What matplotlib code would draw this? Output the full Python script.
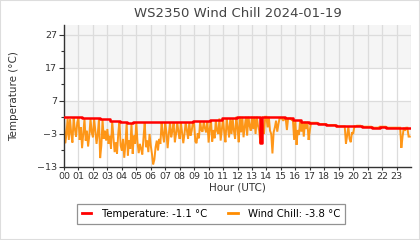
import numpy as np
import matplotlib
matplotlib.use("Agg")
import matplotlib.pyplot as plt
from matplotlib.patches import Rectangle

# ---------------- data ----------------
# temperature steps: hour at which a new value starts, and the value
temp_hours = [0.0, 1.22, 2.49, 3.18, 3.88, 4.34, 4.8, 8.95, 10.1, 10.9, 11.95,
              13.56, 13.66, 14.6, 15.3, 15.85, 16.4, 16.95, 17.6, 18.1, 18.8,
              20.25, 20.6, 21.3, 21.85, 22.3, 23.95]
temp_values = [2.0, 1.7, 1.4, 1.0, 0.7, 0.4, 0.6, 0.9, 1.2, 1.7, 2.2,
               -5.8, 2.2, 2.0, 1.7, 1.2, 0.7, 0.4, 0.0, -0.3, -0.7,
               -0.5, -0.8, -1.1, -0.8, -1.1, -1.1]

# wind chill, 5-minute samples, one row per hour
wind_chill_rows = [
    [1.2, -5.8, -3.3, 1.7, -4.8, 1.5, -2.8, -5.6, 1.9, -1.5, -3.8, 0.5],
    [1.9, -4.8, -1.0, -7.3, -3.0, 1.6, -5.0, -2.0, -6.8, -3.5, 1.6, -2.5],
    [-4.0, 1.6, -2.0, -6.0, -3.0, 1.4, -10.3, -6.5, 1.3, -4.5, -2.0, -5.0],
    [-1.5, -6.0, -3.5, -7.5, 0.9, -4.0, -8.5, -5.5, -9.0, -3.0, 0.9, -6.5],
    [-8.0, -4.5, -10.2, -6.0, 0.5, -9.5, -5.0, -7.5, 0.2, -9.0, -3.5, -6.0],
    [0.6, -5.5, -8.8, -6.0, -7.5, -9.2, -4.0, 0.6, -7.0, -5.0, -8.5, -3.0],
    [-6.5, -9.0, -12.2, -10.8, -7.0, -5.0, -8.0, -4.5, -6.0, 0.6, -3.0, -5.5],
    [0.6, -2.5, -7.3, -3.0, 0.6, -4.0, -2.0, 0.6, -5.5, -3.0, 0.6, -2.5],
    [-4.5, 0.6, -2.5, -5.8, -3.0, 0.6, -2.0, -4.5, 0.6, -3.5, -2.0, 0.6],
    [0.2, -5.3, -5.8, -2.8, -4.3, 0.9, -1.8, -2.3, 0.9, -1.3, -2.5, 0.9],
    [-5.6, -1.3, 1.2, -5.3, -1.8, -4.3, 1.2, -2.0, -3.0, 1.7, -5.0, -1.5],
    [1.7, -2.5, -5.5, 1.7, -1.0, -4.0, 1.7, -3.0, 1.7, -2.0, -4.5, 2.2],
    [-1.0, -5.5, 2.2, -2.5, 2.2, -4.0, -1.0, 2.2, -3.5, 2.2, -0.5, -2.0],
    [2.2, -1.5, 2.2, -3.0, 2.2, -0.5, -2.0, -5.8, 2.2, -1.0, -3.0, 2.2],
    [2.2, -1.0, 2.2, -2.0, -3.0, -8.9, -2.5, -1.0, 1.0, -2.3, 0.0, 2.0],
    [1.7, 1.7, 1.0, 1.7, 1.7, -1.8, 1.7, 1.7, 1.7, 1.2, 1.2, -4.8],
    [1.2, -6.3, -1.8, -3.3, 1.2, -2.3, 0.7, -3.8, 0.7, -1.5, 0.7, -4.8],
    [-2.0, 0.4, 0.4, 0.4, 0.4, 0.4, 0.4, 0.0, 0.0, 0.0, 0.0, 0.0],
    [0.0, 0.0, -0.3, -0.3, -0.3, -0.3, -0.3, -0.3, -0.3, -0.3, -0.7, -0.7],
    [-0.7, -0.7, -0.7, -0.7, -0.7, -0.7, -6.0, -3.5, -0.7, -4.5, -5.5, -2.5],
    [-3.0, -0.7, -0.7, -0.5, -0.5, -0.5, -0.5, -0.8, -0.8, -0.8, -0.8, -0.8],
    [-0.8, -0.8, -0.8, -0.8, -1.1, -1.1, -1.1, -1.1, -1.1, -1.1, -0.8, -0.8],
    [-0.8, -0.8, -0.8, -0.8, -1.1, -1.1, -1.1, -1.1, -1.1, -1.1, -1.1, -1.1],
    [-1.1, -1.1, -1.1, -1.1, -7.2, -3.8, -1.1, -2.0, -1.1, -1.1, -3.8, -3.8],
]
hour_labels = ["%02d" % h for h in range(24)]
y_ticks = [-13, -3, 7, 17, 27]
current_temp = -1.1
current_chill = -3.8

# ---------------- plot ----------------
wind_chill = np.array(wind_chill_rows).ravel()
wc_hours = np.arange(len(wind_chill)) * (5 / 60.0)

fig = plt.figure(figsize=(4.2, 2.4), dpi=100)
fig.patches.append(Rectangle((0, 0), 1, 1, transform=fig.transFigure,
                             fill=False, edgecolor="#dddddd", linewidth=1.5))
ax = fig.add_axes([64 / 420, 1 - 167 / 240, 347 / 420, 142 / 240])
ax.set_xlim(0, 24)
ax.set_ylim(-13, 30)

# background bands
ax.axhspan(17, 30, color="#f5f5f5", zorder=0, lw=0)
ax.axhspan(-3, 7, color="#f5f5f5", zorder=0, lw=0)
for h in range(1, 25):
    ax.axvline(h, color="#dcdcdc", lw=0.9, zorder=1)
for yv in y_ticks[1:]:
    ax.axhline(yv, color="#dcdcdc", lw=0.9, zorder=1)

ax.plot(wc_hours, wind_chill, color="#ff8c00", lw=1.4, alpha=0.9, zorder=2,
        solid_joinstyle="miter")
ax.step(temp_hours, temp_values, where="post", color="#ff0000", lw=1.8, zorder=3)

ax.set_yticks(y_ticks)
ax.set_yticks([-8, 2, 12, 22], minor=True)
ax.set_xticks(range(24))
ax.set_xticklabels(hour_labels)
ax.tick_params(axis="both", labelsize=6.8, colors="#333333", length=3.5, width=0.8, pad=1.5)
ax.tick_params(axis="x", length=2)
ax.tick_params(axis="y", which="minor", length=2.5, width=0.8, colors="#333333")
for s in ["top", "right"]:
    ax.spines[s].set_visible(False)
for s in ["left", "bottom"]:
    ax.spines[s].set_color("#333333")
    ax.spines[s].set_linewidth(1.0)

ax.set_title("WS2350 Wind Chill 2024-01-19", fontsize=9.5, color="#444444", pad=6)
ax.set_ylabel("Temperature (°C)", fontsize=7.5, color="#333333", labelpad=13)
ax.set_xlabel("Hour (UTC)", fontsize=7.5, color="#333333", labelpad=1)

h1, = ax.plot([], [], color="#ff0000", lw=2)
h2, = ax.plot([], [], color="#ff8c00", lw=2)
leg = fig.legend([h1, h2],
                 ["Temperature: %.1f °C" % current_temp, "Wind Chill: %.1f °C" % current_chill],
                 loc="center", bbox_to_anchor=(211 / 420, 1 - 214 / 240), ncol=2,
                 fontsize=7.3, frameon=True, fancybox=False, handlelength=0.95,
                 columnspacing=2.1, handletextpad=1.0, borderpad=0.45)
leg.get_frame().set_edgecolor("#777777")
leg.get_frame().set_linewidth(0.9)

fig.savefig("out.png", dpi=100)
